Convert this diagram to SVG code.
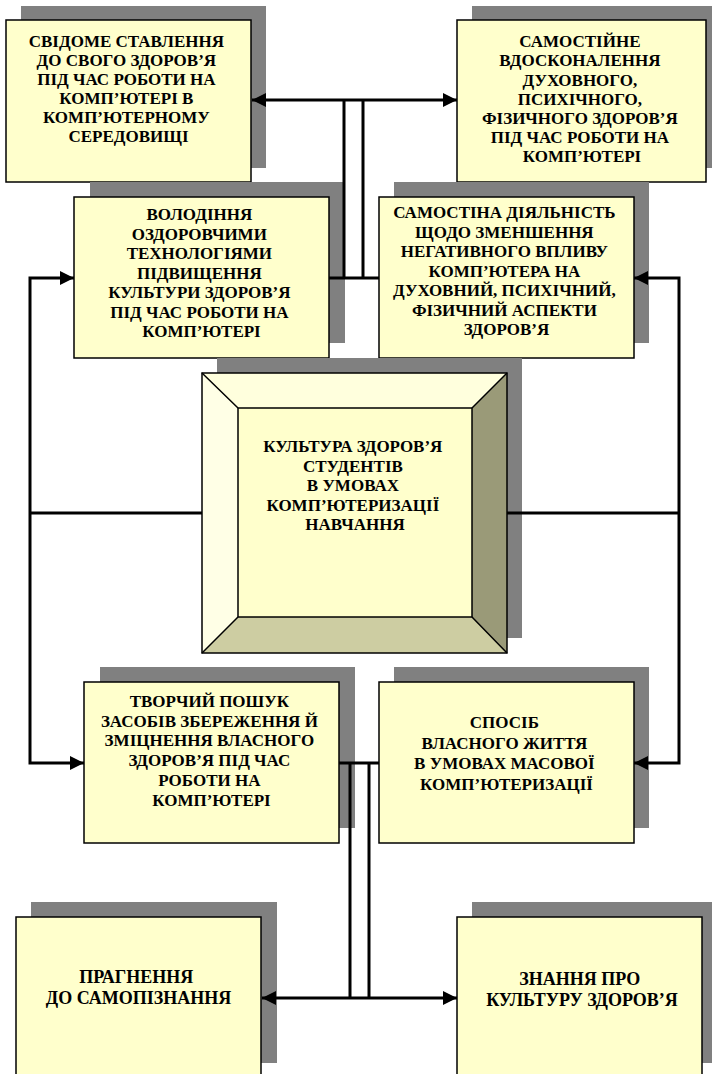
<svg xmlns="http://www.w3.org/2000/svg" width="712" height="1074" viewBox="0 0 712 1074">
  <style>
    .shadow { fill: #808080; }
    .box { fill: #FFFFCC; stroke: #000; stroke-width: 1.5; }
    .label { font-family: "Liberation Serif", "Times New Roman", serif; font-weight: bold; font-size: 17px; fill: #000; text-anchor: middle; }
    .label.big { font-size: 18px; }
    .wire { fill: none; stroke: #000; stroke-width: 3; }
    .arrow { marker-start: url(#head); marker-end: url(#head); }
  </style>
  <defs>
    <marker id="head" viewBox="0 0 14 14" refX="14" refY="7" markerWidth="14" markerHeight="14" markerUnits="userSpaceOnUse" orient="auto-start-reverse">
      <path d="M0,0 L14,7 L0,14 Z" fill="#000"/>
    </marker>
  </defs>
  <rect width="712" height="1074" fill="#fff"/>

  <!-- top left -->
  <g id="node-svidome">
    <rect class="shadow" x="21" y="6" width="245" height="162"/>
    <rect class="box" x="6" y="20" width="245" height="162"/>
    <text class="label">
      <tspan x="128.5" y="47">СВІДОМЕ СТАВЛЕННЯ</tspan>
      <tspan x="128.5" y="66">ДО СВОГО ЗДОРОВ’Я</tspan>
      <tspan x="128.5" y="85">ПІД ЧАС РОБОТИ НА</tspan>
      <tspan x="128.5" y="104">КОМП’ЮТЕРІ В</tspan>
      <tspan x="128.5" y="123">КОМП’ЮТЕРНОМУ</tspan>
      <tspan x="128.5" y="142">СЕРЕДОВИЩІ</tspan>
    </text>
  </g>

  <!-- top right -->
  <g id="node-vdoskonalennia">
    <rect class="shadow" x="472" y="6" width="249" height="162"/>
    <rect class="box" x="457" y="20" width="249" height="162"/>
    <text class="label">
      <tspan x="582" y="47">САМОСТІЙНЕ</tspan>
      <tspan x="582" y="66">ВДОСКОНАЛЕННЯ</tspan>
      <tspan x="582" y="85.5">ДУХОВНОГО,</tspan>
      <tspan x="582" y="104.5">ПСИХІЧНОГО,</tspan>
      <tspan x="582" y="124">ФІЗИЧНОГО ЗДОРОВ’Я</tspan>
      <tspan x="582" y="143">ПІД ЧАС РОБОТИ НА</tspan>
      <tspan x="582" y="162">КОМП’ЮТЕРІ</tspan>
    </text>
  </g>

  <!-- second row left -->
  <g id="node-volodinnia">
    <rect class="shadow" x="90" y="182" width="255" height="161"/>
    <rect class="box" x="74" y="197" width="255" height="161"/>
    <text class="label">
      <tspan x="201.5" y="220">ВОЛОДІННЯ</tspan>
      <tspan x="201.5" y="239.5">ОЗДОРОВЧИМИ</tspan>
      <tspan x="201.5" y="259">ТЕХНОЛОГІЯМИ</tspan>
      <tspan x="201.5" y="278.5">ПІДВИЩЕННЯ</tspan>
      <tspan x="201.5" y="298">КУЛЬТУРИ ЗДОРОВ’Я</tspan>
      <tspan x="201.5" y="317.5">ПІД ЧАС РОБОТИ НА</tspan>
      <tspan x="201.5" y="337">КОМП’ЮТЕРІ</tspan>
    </text>
  </g>

  <!-- second row right -->
  <g id="node-diialnist">
    <rect class="shadow" x="394" y="182" width="255" height="161"/>
    <rect class="box" x="379" y="197" width="255" height="161"/>
    <text class="label">
      <tspan x="506.5" y="218">САМОСТІНА ДІЯЛЬНІСТЬ</tspan>
      <tspan x="506.5" y="237.5">ЩОДО ЗМЕНШЕННЯ</tspan>
      <tspan x="506.5" y="257">НЕГАТИВНОГО ВПЛИВУ</tspan>
      <tspan x="506.5" y="276.5">КОМП’ЮТЕРА НА</tspan>
      <tspan x="506.5" y="296">ДУХОВНИЙ, ПСИХІЧНИЙ,</tspan>
      <tspan x="506.5" y="315.5">ФІЗИЧНИЙ АСПЕКТИ</tspan>
      <tspan x="506.5" y="335">ЗДОРОВ’Я</tspan>
    </text>
  </g>

  <!-- central bevelled block -->
  <g id="node-kultura">
    <rect class="shadow" x="217" y="358" width="305" height="280"/>
    <polygon points="202,373 507,373 472,408 238,408" fill="#FFFFDD"/>
    <polygon points="202,373 238,408 238,617 202,653" fill="#FFFFE6"/>
    <polygon points="507,373 507,653 472,617 472,408" fill="#9A9A78"/>
    <polygon points="202,653 238,617 472,617 507,653" fill="#CDCDA2"/>
    <rect x="238" y="408" width="234" height="209" fill="#FFFFCC"/>
    <g fill="none" stroke="#000" stroke-width="1.5">
      <rect x="202" y="373" width="305" height="280"/>
      <rect x="238" y="408" width="234" height="209"/>
      <path d="M202,373 L238,408 M507,373 L472,408 M202,653 L238,617 M507,653 L472,617"/>
    </g>
    <text class="label">
      <tspan x="355" y="452">КУЛЬТУРА ЗДОРОВ’Я</tspan>
      <tspan x="355" y="471.5">СТУДЕНТІВ</tspan>
      <tspan x="355" y="491">В УМОВАХ</tspan>
      <tspan x="355" y="510.5">КОМП’ЮТЕРИЗАЦІЇ</tspan>
      <tspan x="355" y="530">НАВЧАННЯ</tspan>
    </text>
  </g>

  <!-- third row left -->
  <g id="node-tvorchyi">
    <rect class="shadow" x="100" y="667" width="255" height="161"/>
    <rect class="box" x="84" y="682" width="255" height="161"/>
    <text class="label">
      <tspan x="211.5" y="707">ТВОРЧИЙ ПОШУК</tspan>
      <tspan x="211.5" y="726.5">ЗАСОБІВ ЗБЕРЕЖЕННЯ Й</tspan>
      <tspan x="211.5" y="746">ЗМІЦНЕННЯ ВЛАСНОГО</tspan>
      <tspan x="211.5" y="766">ЗДОРОВ’Я ПІД ЧАС</tspan>
      <tspan x="211.5" y="786">РОБОТИ НА</tspan>
      <tspan x="211.5" y="806">КОМП’ЮТЕРІ</tspan>
    </text>
  </g>

  <!-- third row right -->
  <g id="node-sposib">
    <rect class="shadow" x="394" y="667" width="255" height="161"/>
    <rect class="box" x="379" y="682" width="255" height="161"/>
    <text class="label">
      <tspan x="506.5" y="728">СПОСІБ</tspan>
      <tspan x="506.5" y="748.5">ВЛАСНОГО ЖИТТЯ</tspan>
      <tspan x="506.5" y="769">В УМОВАХ МАСОВОЇ</tspan>
      <tspan x="506.5" y="789.5">КОМП’ЮТЕРИЗАЦІЇ</tspan>
    </text>
  </g>

  <!-- bottom left -->
  <g id="node-samopiznannia">
    <rect class="shadow" x="31" y="902" width="246" height="161"/>
    <rect class="box" x="16" y="917" width="245" height="175"/>
    <text class="label big">
      <tspan x="138.5" y="983">ПРАГНЕННЯ</tspan>
      <tspan x="138.5" y="1004">ДО САМОПІЗНАННЯ</tspan>
    </text>
  </g>

  <!-- bottom right -->
  <g id="node-znannia">
    <rect class="shadow" x="472" y="902" width="245" height="161"/>
    <rect class="box" x="457" y="917" width="245" height="175"/>
    <text class="label big">
      <tspan x="582" y="985">ЗНАННЯ ПРО</tspan>
      <tspan x="582" y="1006">КУЛЬТУРУ ЗДОРОВ’Я</tspan>
    </text>
  </g>

  <g id="connectors">
    <!-- upper bus -->
    <path class="wire arrow" d="M252,100 H457"/>
    <path class="wire" d="M344,100 V278 M363,100 V278"/>
    <path class="wire" d="M329,278 H379"/>
    <!-- left loop -->
    <path class="wire arrow" d="M74,278 H30 V763 H84"/>
    <path class="wire" d="M30,513 H202"/>
    <!-- right loop -->
    <path class="wire arrow" d="M634,278 H679 V763 H634"/>
    <path class="wire" d="M507,513 H679"/>
    <!-- lower bus -->
    <path class="wire" d="M339,763 H379"/>
    <path class="wire" d="M350,763 V998 M369,763 V998"/>
    <path class="wire arrow" d="M262,998 H457"/>
  </g>
</svg>
